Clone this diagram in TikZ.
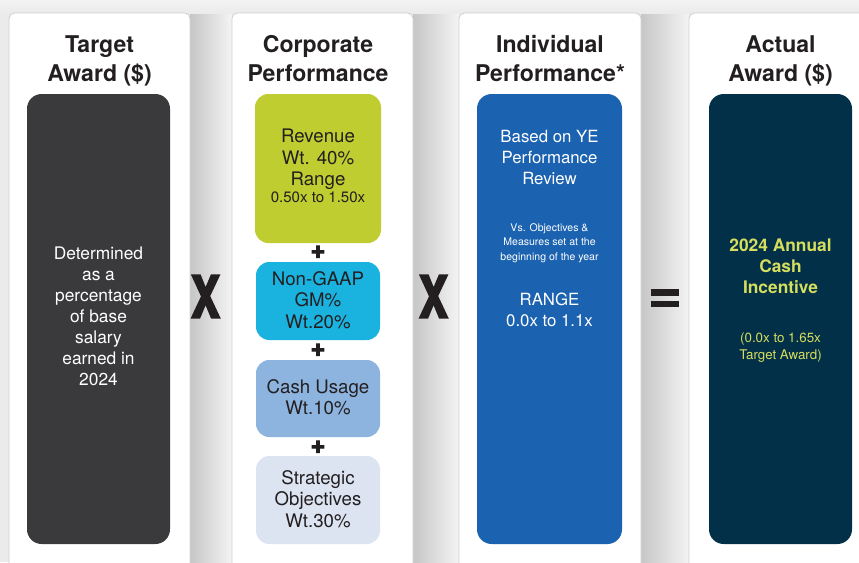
\documentclass[tikz,border=0pt]{standalone}
\usepackage{fontspec}
\setmainfont{TeX Gyre Heros}
\newfontfamily\opfont[BoldFeatures={FakeBold=4}]{TeX Gyre Heros}
\definecolor{ink}{HTML}{231F20}
\definecolor{bggray}{HTML}{EBEBEB}
\definecolor{shd}{HTML}{C6C6C6}
\definecolor{shl}{HTML}{F4F4F4}
\definecolor{cardline}{HTML}{CFCFCF}
\definecolor{darkbox}{HTML}{3A3A3C}
\definecolor{lime}{HTML}{BFCD30}
\definecolor{cyanbox}{HTML}{1AB3E0}
\definecolor{midblue}{HTML}{8DB3DF}
\definecolor{paleblue}{HTML}{DCE4F2}
\definecolor{bluebox}{HTML}{1B62B0}
\definecolor{navy}{HTML}{013048}
\definecolor{yel}{HTML}{D6DE5E}
\tikzset{
  card/.style={draw=cardline, line width=0.6pt, fill=white, rounded corners=4pt},
  title/.style={font=\fontsize{17.3}{21.75}\selectfont\bfseries, align=center, text=ink, inner sep=0pt},
  body/.style={font=\fontsize{14}{16}\selectfont, align=center, text=ink, inner sep=0pt},
  whitetext/.style={font=\fontsize{13}{15.75}\selectfont, align=center, text=white, inner sep=0pt},
  plussign/.style={font=\fontsize{19}{19}\opfont\selectfont\bfseries, text=ink, inner sep=0pt},
  opsign/.style={font=\fontsize{43}{43}\opfont\selectfont\bfseries, text=ink, inner sep=0pt},
}
\begin{document}
\begin{tikzpicture}[x=0.75pt,y=-0.75pt]
\useasboundingbox (0,0) rectangle (859,562);
\clip (0,0) rectangle (859,562);
% background and shadows
\fill[bggray] (0,0) rectangle (859,562);
\shade[left color=shd, right color=shl] (190,13) rectangle (232,562);
\shade[left color=shd, right color=shl] (413,13) rectangle (459,562);
\shade[left color=shd, right color=shl] (641,13) rectangle (689,562);
\shade[top color=bggray!60!white, bottom color=bggray] (0,0) rectangle (859,13);
% cards
\draw[card] (9,13) rectangle (190,590);
\draw[card] (232,13) rectangle (413,590);
\draw[card] (459,13) rectangle (641,590);
\draw[card] (689,13) rectangle (880,590);
% titles
\node[title] (t1) at (99.5,61) {Target\\Award (\$)};
\node[title] (t2) at (318,59) {Corporate\\Performance};
\node[title] (t3) at (550,59) {Individual\\Performance*};
\node[title] (t4) at (780.5,61) {Actual\\Award (\$)};
% column 1
\fill[darkbox, rounded corners=11pt] (27,94) rectangle (170,544);
\node[whitetext] (d1) at (98.5,316) {Determined\\as a\\percentage\\of base\\salary\\earned in\\2024};
% column 2
\fill[lime, rounded corners=10pt] (255,94) rectangle (381,243);
\node[body] (rev) at (318,166) {Revenue\\Wt. 40\%\\Range\\[-3pt]{\fontsize{11.3}{13}\selectfont 0.50x to 1.50x}};
\node[plussign] (p1) at (318,252) {+};
\fill[cyanbox, rounded corners=10pt] (256,262) rectangle (380,340);
\node[body] (gm) at (318,300) {Non-GAAP\\GM\%\\Wt.20\%};
\node[plussign] (p2) at (318,350) {+};
\fill[midblue, rounded corners=10pt] (256,360) rectangle (380,437);
\node[body] (cash) at (318,397) {Cash Usage\\Wt.10\%};
\node[plussign] (p3) at (318,447) {+};
\fill[paleblue, rounded corners=10pt] (256,456) rectangle (380,544);
\node[body] (strat) at (318,499) {Strategic\\Objectives\\Wt.30\%};
% column 3
\fill[bluebox, rounded corners=11pt] (477,94) rectangle (622,544);
\node[whitetext, font=\fontsize{12.6}{15.75}\selectfont] (b1) at (549.5,157) {Based on YE\\Performance\\Review};
\node[whitetext, font=\fontsize{7.9}{10.9}\selectfont] (b2) at (549.5,243) {Vs. Objectives \&\\Measures set at the\\beginning of the year};
\node[whitetext, font=\fontsize{12.6}{15.75}\selectfont] (b3) at (549.5,310) {RANGE\\0.0x to 1.1x};
% column 4
\fill[navy, rounded corners=11pt] (709,94) rectangle (852,544);
\node[whitetext, text=yel, font=\fontsize{13}{15.75}\selectfont\bfseries] (n1) at (780.5,266) {2024 Annual\\Cash\\Incentive};
\node[whitetext, text=yel, font=\fontsize{10}{12.75}\selectfont] (n2) at (780.5,348) {(0.0x to 1.65x\\Target Award)};
% operators
\node[opsign] (x1) at (205.5,296.5) {\scalebox{0.75}[1]{X}};
\node[opsign] (x2) at (433.5,296.5) {\scalebox{0.75}[1]{X}};
\fill[ink] (651,289) rectangle (679,295.5);
\fill[ink] (651,300.5) rectangle (679,307);
\end{tikzpicture}
\end{document}
